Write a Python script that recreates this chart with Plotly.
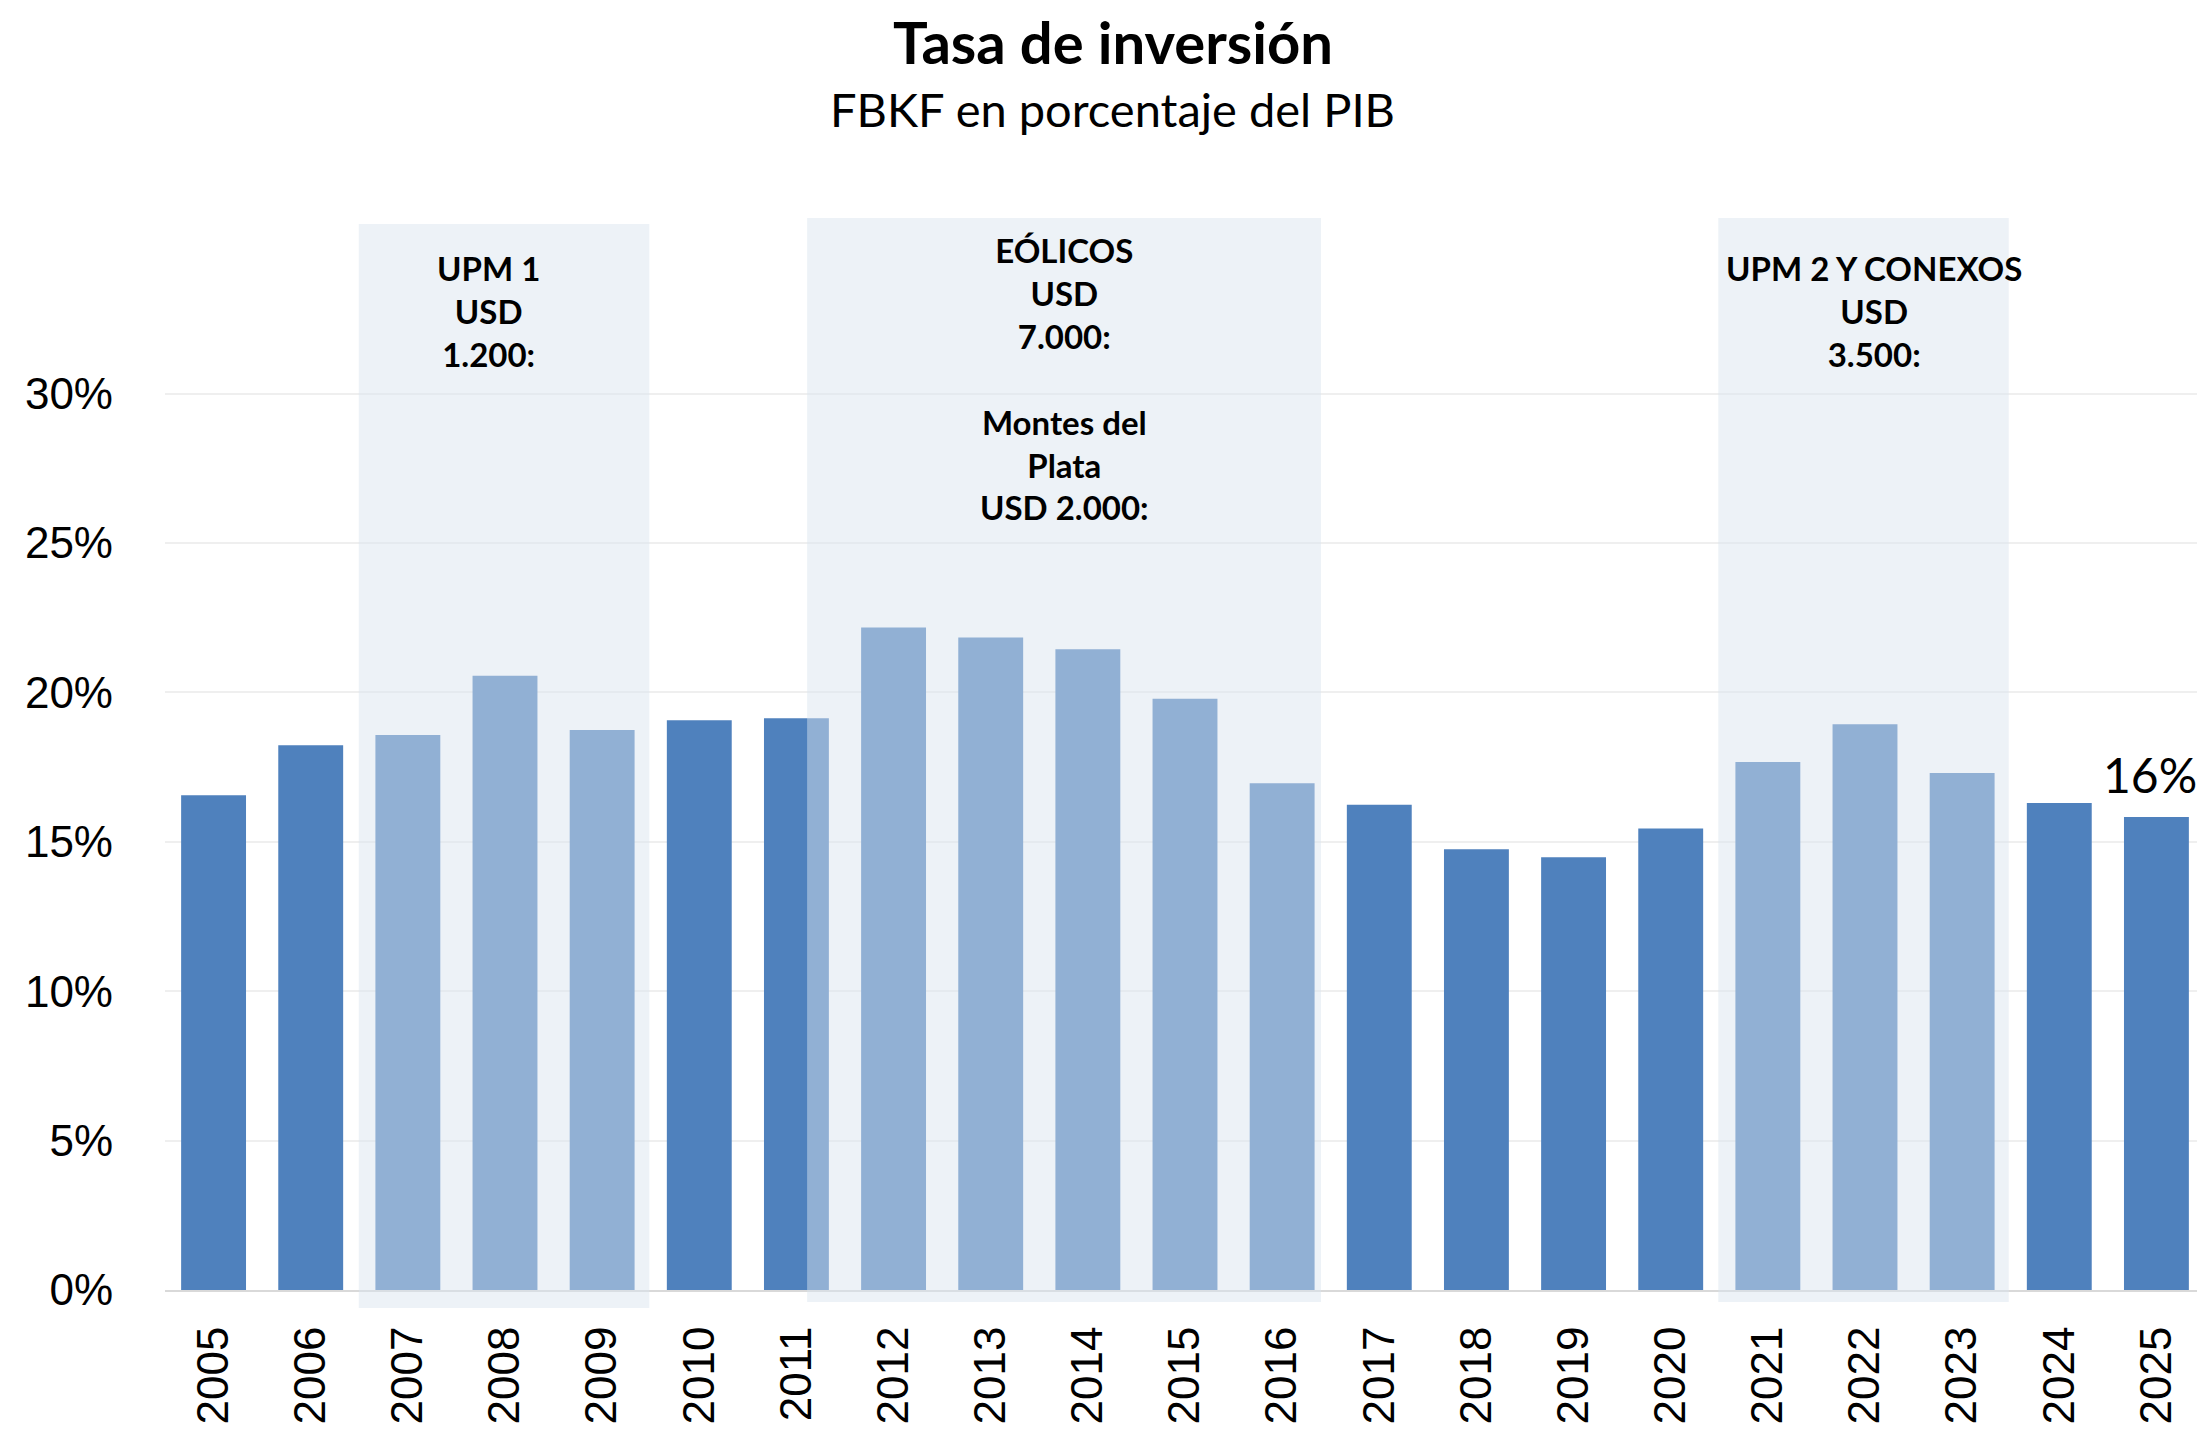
import plotly.graph_objects as go

# ---- data ----
years = [str(y) for y in range(2005, 2026)]
fbkf_pct = [16.56, 18.23, 18.57, 20.56, 18.74, 19.07, 19.13, 22.17, 21.84, 21.44,
            19.79, 16.96, 16.24, 14.75, 14.48, 15.44, 17.67, 18.93, 17.30, 16.30, 15.83]
y_ticks = [0, 5, 10, 15, 20, 25, 30]

region_labels = [
    "UPM 1<br>USD<br>1.200:",
    "EÓLICOS<br>USD<br>7.000:<br><br>Montes del<br>Plata<br>USD 2.000:",
    "UPM 2 Y CONEXOS<br>USD<br>3.500:",
]
title_text = "Tasa de inversión"
subtitle_text = "FBKF en porcentaje del PIB"

# ---- layout geometry ----
# The page body has an 8px margin, so the figure is drawn 8px smaller and
# all pixel targets (given in page coordinates) are shifted by OFF.
OFF = 8
W, H = 2205 - OFF, 1436 - OFF
ML, MR, MT, MB = 165 - OFF, 0, 150 - OFF, 146
plot_h = H - MT - MB
y_max = 38.15

def py(ypx):
    """page pixel y (from top) -> paper y"""
    return (H - MB - (ypx - OFF)) / plot_h

def px(xpx):
    return ((xpx - OFF) - ML) / (W - ML - MR)

# shaded regions (category-index spans, page-pixel top/bottom)
region_spans = [(1.495, 4.486, 224, 1308), (6.11, 11.40, 218, 1302), (15.49, 18.48, 218, 1302)]
label_pos = [(2.83, 32.76), (8.76, 30.49), (17.09, 32.76)]

BAR = "#4F81BD"
TXT_FONT = "Lato"
TICK_FONT = "Liberation Sans"

x_idx = list(range(len(years)))

fig = go.Figure(go.Bar(
    x=x_idx, y=fbkf_pct, width=0.668,
    marker=dict(color=BAR, line=dict(width=0)),
    hoverinfo="skip",
))

shapes = []
for x0, x1, top, bot in region_spans:
    shapes.append(dict(type="rect", xref="x", yref="paper", x0=x0, x1=x1,
                       y0=py(bot), y1=py(top), fillcolor="rgba(218,228,238,0.48)",
                       line=dict(width=0), layer="above"))

annotations = []
for txt, (xa, ya) in zip(region_labels, label_pos):
    annotations.append(dict(x=xa, y=ya, xref="x", yref="y", text=txt, showarrow=False,
                            xanchor="center", yanchor="middle", align="center",
                            font=dict(family=TXT_FONT, size=33, color="black", weight="bold")))

# last-value label
annotations.append(dict(x=x_idx[-1], y=fbkf_pct[-1], xref="x", yref="y",
                        text=f"{round(fbkf_pct[-1])}%", showarrow=False,
                        xanchor="center", yanchor="bottom", xshift=-6, yshift=12,
                        font=dict(family=TXT_FONT, size=48, color="black")))

# title and subtitle
annotations.append(dict(x=px(1113), y=py(41), xref="paper", yref="paper", text=title_text,
                        showarrow=False, xanchor="center", yanchor="middle", borderpad=0,
                        font=dict(family=TXT_FONT, size=58, color="black", weight="bold")))
annotations.append(dict(x=px(1112), y=py(109), xref="paper", yref="paper", text=subtitle_text,
                        showarrow=False, xanchor="center", yanchor="middle",
                        font=dict(family=TXT_FONT, size=47, color="black")))

fig.update_layout(
    width=W, height=H,
    margin=dict(l=ML, r=MR, t=MT, b=MB),
    paper_bgcolor="white", plot_bgcolor="white",
    showlegend=False,
    shapes=shapes, annotations=annotations,
    xaxis=dict(range=[-0.5, 20.5], tickmode="array", tickvals=x_idx, ticktext=years,
               tickangle=-90, tickfont=dict(family=TICK_FONT, size=44, color="black"),
               showline=True, linecolor="#D9D9D9", linewidth=2, showgrid=False,
               zeroline=False, ticks="", ticklabelstandoff=17, fixedrange=True),
    yaxis=dict(range=[0, y_max], tickmode="array", tickvals=y_ticks,
               ticktext=[f"{v}%" for v in y_ticks],
               tickfont=dict(family=TICK_FONT, size=44, color="black"),
               showgrid=True, gridcolor="#EFEFEF", gridwidth=2, zeroline=False,
               showline=False, ticks="", ticklabelstandoff=51, fixedrange=True),
)

fig.write_html("out.html")
